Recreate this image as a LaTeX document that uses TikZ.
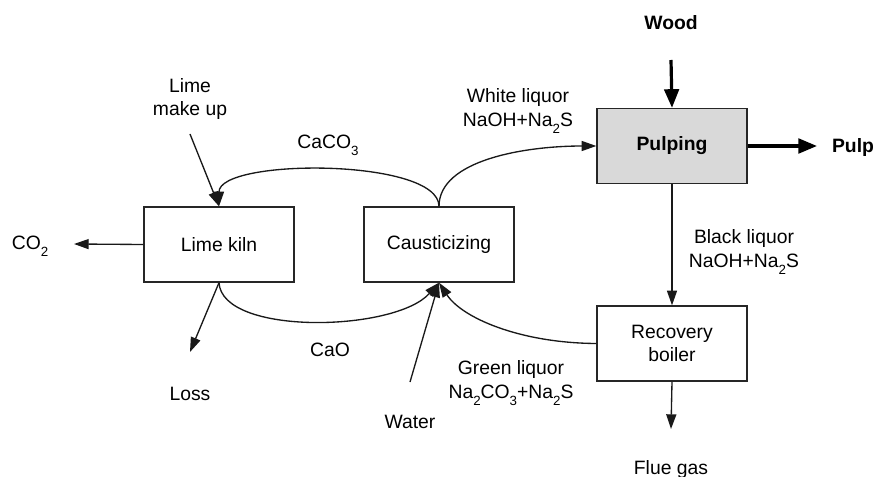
\documentclass[tikz,border=0pt]{standalone}
\usepackage{fontspec}
\setmainfont{Liberation Sans}
\usetikzlibrary{arrows.meta}
\newcommand\chemsub[1]{\raisebox{-0.7ex}{\fontsize{10}{10}\selectfont #1}}
\begin{document}
\begin{tikzpicture}[x=0.75pt,y=-0.75pt,
  font=\fontsize{14.5}{17.5}\selectfont,
  unit/.style={draw=black!85,line width=1pt,minimum width=112.5pt,minimum height=56.25pt,inner sep=0pt,align=center},
  flow/.style={draw=black!90,line width=1pt,-{Triangle[length=11pt,width=7.5pt]}},
  mainflow/.style={draw=black,line width=2.4pt,-{Triangle[length=14pt,width=11pt]}},
  lbl/.style={align=center,inner sep=0pt}]
\useasboundingbox (0,0) rectangle (873,477);

% process units
\node[unit] (kiln) at (219,244.5) {Lime kiln};
\node[unit] (caus) at (439,244.5) {Causticizing};
\node[unit,fill=black!15] (pulp) at (672,146) {\textbf{Pulping}};
\node[unit] (boil) at (672,343.5) {Recovery\\boiler};

% stream labels
\node[lbl] (wood) at (671,23) {\textbf{Wood}};
\node[lbl] (pulpout) at (853,148) {\textbf{Pulp}};
\node[lbl] (makeup) at (190,99) {Lime\\make up};
\node[lbl] (caco3) at (328,145) {CaCO\chemsub{3}};
\node[lbl] (white) at (518,111) {White liquor\\NaOH+Na\chemsub{2}S};
\node[lbl] (black) at (744,252) {Black liquor\\NaOH+Na\chemsub{2}S};
\node[lbl] (green) at (511,383) {Green liquor\\Na\chemsub{2}CO\chemsub{3}+Na\chemsub{2}S};
\node[lbl] (co2) at (30,246) {CO\chemsub{2}};
\node[lbl] (loss) at (190,394) {Loss};
\node[lbl] (cao) at (330,350) {CaO};
\node[lbl] (water) at (410,422) {Water};
\node[lbl] (flue) at (671,469) {Flue gas};

% free ends of the short arrows
\coordinate (woodend) at (671,60);
\coordinate (pulpend) at (817,146);
\coordinate (makeupend) at (190,134);
\coordinate (co2end) at (74,244);
\coordinate (lossend) at (190,352);
\coordinate (waterend) at (410,382);
\coordinate (flueend) at (671,429);

% main line
\draw[mainflow] (woodend) -- (pulp.north);
\draw[mainflow] (pulp.east) -- (pulpend);
\draw[flow] (pulp.south) -- (boil.north);
\draw[flow] (boil.south) -- (flueend);

% liquor cycle
\draw[flow] (caus.north) .. controls (439,160) and (525,146) .. (pulp.west);
\draw[flow] (boil.west) .. controls (520,343) and (462,318) .. (caus.south);
\draw[flow] (waterend) -- (caus.south);

% lime cycle
\draw[flow] (caus.north) .. controls (439,158) and (219,158) .. (kiln.north);
\draw[flow] (kiln.south) .. controls (222,336) and (395,332) .. (caus.south);
\draw[flow] (makeupend) -- (kiln.north);
\draw[flow] (kiln.west) -- (co2end);
\draw[flow] (kiln.south) -- (lossend);
\end{tikzpicture}
\end{document}
